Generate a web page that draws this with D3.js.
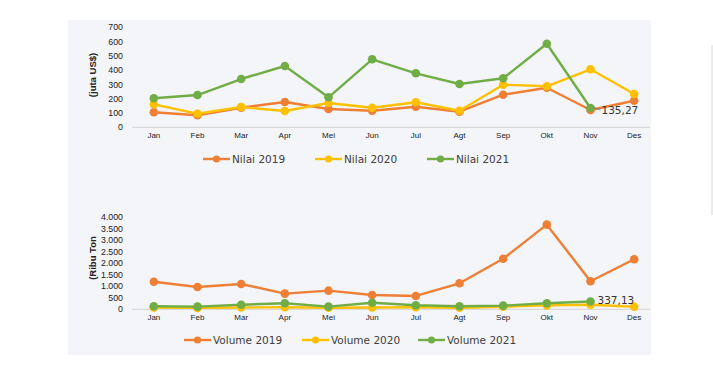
<!DOCTYPE html>
<html>
<head>
<meta charset="utf-8">
<title>Nilai dan Volume</title>
<script src="https://cdnjs.cloudflare.com/ajax/libs/d3/7.8.5/d3.min.js"></script>
<style>
  body { margin: 0; background: #fff; }
  .tick-lbl { font-family: "Liberation Sans", Arial, sans-serif; font-size: 8px; fill: #222; }
  .ytick { font-size: 8.8px; }
  .leg-lbl { font-family: "DejaVu Sans", sans-serif; font-size: 10.5px; fill: #404040; }
  .data-lbl { font-family: "DejaVu Sans", sans-serif; font-size: 10.5px; fill: #333; }
</style>
</head>
<body>
<div id="chart"></div>
<script>
    // months and series
    var months = ["Jan", "Feb", "Mar", "Apr", "Mei", "Jun", "Jul", "Agt", "Sep", "Okt", "Nov", "Des"];

    var nilai2019 = [105, 84, 137, 177, 128, 116, 144, 109, 228, 277, 121, 186];
    var nilai2020 = [161, 95, 142, 114, 170, 137, 175, 116, 298, 287, 406, 233];
    var nilai2021 = [203, 226, 338, 429, 210, 476, 378, 303, 343, 585, 135.27];

    var volume2019 = [1200, 970, 1100, 680, 810, 620, 580, 1130, 2200, 3680, 1220, 2175];
    var volume2020 = [80, 60, 80, 90, 70, 80, 90, 70, 110, 170, 200, 110];
    var volume2021 = [130, 115, 200, 260, 115, 285, 175, 130, 160, 260, 337.13];

    var nilaiTicks = [0, 100, 200, 300, 400, 500, 600, 700];
    var volumeTicks = [0, 500, 1000, 1500, 2000, 2500, 3000, 3500, 4000];

    var colors = ["#EE7F35", "#FFC000", "#70AD47"];

    var width = 713, height = 370;

    var svg = d3.select("#chart").append("svg")
        .attr("width", width)
        .attr("height", height);

    // panel background + right divider
    svg.append("rect").attr("x", 68).attr("y", 20).attr("width", 583).attr("height", 335).attr("fill", "#f4f5f8");
    svg.append("line").attr("x1", 712).attr("x2", 712).attr("y1", 45).attr("y2", 215)
        .attr("stroke", "#d6d6d6").attr("stroke-width", 1);

    var x = d3.scaleBand().domain(months).range([132, 656]);
    var cx = function(m) { return x(m) + x.bandwidth() / 2; };

    var numFmt = function(v) { return d3.format(",")(v).replace(/,/g, "."); };

    function drawPanel(opts) {
        var g = svg.append("g");
        var y = d3.scaleLinear().domain([0, opts.max]).range([opts.y0, opts.y1]);

        // y tick labels
        g.selectAll(".ylab").data(opts.ticks).enter().append("text")
            .attr("class", "tick-lbl ytick")
            .attr("x", 123).attr("y", function(d) { return y(d); })
            .attr("dy", "0.35em").attr("text-anchor", "end")
            .text(opts.fmt);

        // y title
        g.append("text").attr("class", "tick-lbl")
            .attr("transform", "translate(96," + opts.titleY + ") rotate(-90)")
            .attr("text-anchor", "middle").style("font-size", "9.5px").style("font-weight", "bold")
            .text(opts.title);

        // baseline
        g.append("line").attr("x1", 132).attr("x2", 650)
            .attr("y1", y(0)).attr("y2", y(0))
            .attr("stroke", "#d9d9d9").attr("stroke-width", 1.2);

        // x labels
        g.selectAll(".xlab").data(months).enter().append("text")
            .attr("class", "tick-lbl")
            .attr("x", cx).attr("y", y(0) + 11)
            .attr("text-anchor", "middle")
            .text(function(d) { return d; });

        var line = d3.line()
            .x(function(d, i) { return cx(months[i]); })
            .y(function(d) { return y(d); });

        opts.series.forEach(function(s, k) {
            g.append("path").datum(s)
                .attr("d", line)
                .attr("fill", "none")
                .attr("stroke", colors[k])
                .attr("stroke-width", 2.4)
                .attr("stroke-linejoin", "round");
            g.selectAll(".pt" + k).data(s).enter().append("circle")
                .attr("cx", function(d, i) { return cx(months[i]); })
                .attr("cy", function(d) { return y(d); })
                .attr("r", 4.3)
                .attr("fill", colors[k]);
        });

        // data label for last 2021 point
        var last = opts.series[2];
        var li = last.length - 1;
        var lx = cx(months[li]), ly = y(last[li]);
        if (opts.leader) {
            g.append("line").attr("x1", lx + 2).attr("y1", ly - 1)
                .attr("x2", lx + 10).attr("y2", ly + 2)
                .attr("stroke", "#777").attr("stroke-width", 0.8);
        }
        g.append("text").attr("class", "data-lbl")
            .attr("x", lx + opts.labDx).attr("y", ly + opts.labDy)
            .attr("dy", "0.35em")
            .text(String(last[li]).replace(".", ","));

        // legend
        var legend = g.selectAll(".leg").data(opts.legend).enter().append("g")
            .attr("transform", function(d, i) { return "translate(" + opts.legX[i] + "," + opts.legY + ")"; });
        legend.append("line").attr("x1", 0).attr("x2", 27).attr("y1", 0).attr("y2", 0)
            .attr("stroke", function(d, i) { return colors[i]; }).attr("stroke-width", 2.4);
        legend.append("circle").attr("cx", 13.5).attr("cy", 0).attr("r", 3.6)
            .attr("fill", function(d, i) { return colors[i]; });
        legend.append("text").attr("class", "leg-lbl")
            .attr("x", 29).attr("y", 0).attr("dy", "0.36em")
            .text(function(d) { return d; });
    }

    drawPanel({
        max: 700, y0: 127.3, y1: 27.3,
        ticks: nilaiTicks, fmt: function(d) { return d; },
        title: "(juta US$)", titleY: 75,
        series: [nilai2019, nilai2020, nilai2021],
        leader: true, labDx: 11, labDy: 2,
        legend: ["Nilai 2019", "Nilai 2020", "Nilai 2021"],
        legX: [203, 315, 427], legY: 159
    });

    drawPanel({
        max: 4000, y0: 309.3, y1: 217.3,
        ticks: volumeTicks, fmt: numFmt,
        title: "(Ribu Ton", titleY: 258,
        series: [volume2019, volume2020, volume2021],
        leader: false, labDx: 7, labDy: -1,
        legend: ["Volume 2019", "Volume 2020", "Volume 2021"],
        legX: [184, 302, 418], legY: 340
    });
</script>
</body>
</html>
